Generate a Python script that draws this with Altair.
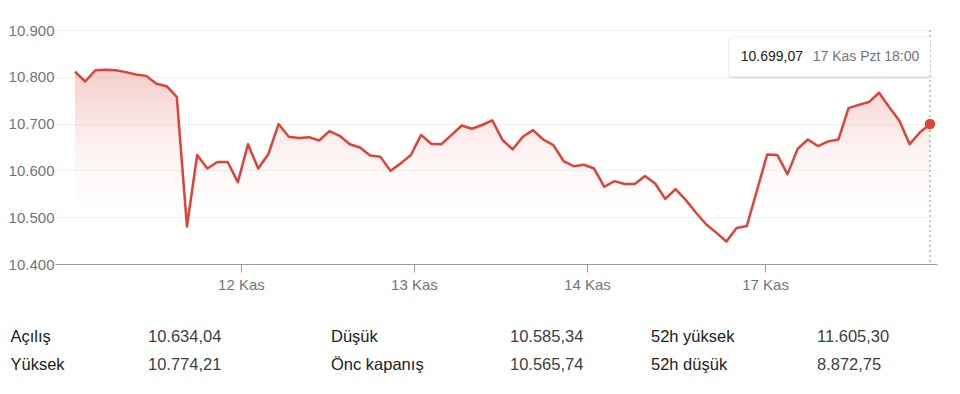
import altair as alt
import pandas as pd

# ---------------- data ----------------
prices = [
    10811, 10790, 10814, 10815, 10814, 10810, 10805, 10802, 10785, 10780,
    10757, 10480, 10633, 10604, 10618, 10618, 10575, 10656, 10604, 10635,
    10699, 10672, 10669, 10671, 10664, 10684, 10674, 10656, 10649, 10632,
    10629, 10599, 10615, 10633, 10676, 10657, 10656, 10676, 10696, 10689,
    10697, 10707, 10665, 10645, 10672, 10686, 10666, 10654, 10620, 10609,
    10612, 10604, 10565, 10577, 10571, 10571, 10588, 10572, 10539, 10560,
    10537, 10510, 10485, 10467, 10448, 10477, 10481, 10557, 10634, 10633,
    10592, 10646, 10666, 10652, 10662, 10666, 10733, 10740, 10746, 10766,
    10735, 10706, 10656, 10681, 10699.07,
]
tick_idx = [16.3, 33.3, 50.3, 67.8]
tick_labels = ["12 Kas", "13 Kas", "14 Kas", "17 Kas"]
y_ticks = [10400, 10500, 10600, 10700, 10800, 10900]

stat_names = [["Açılış", "Yüksek"], ["Düşük", "Önc kapanış"], ["52h yüksek", "52h düşük"]]
stat_values = [["10.634,04", "10.774,21"], ["10.585,34", "10.565,74"], ["11.605,30", "8.872,75"]]

last_price_label = "10.699,07"
last_time_label = "17 Kas Pzt 18:00"

# ---------------- layout / style ----------------
FONT = "Liberation Sans"
RED = "#db4437"
W, H = 882, 234
X_DOMAIN = [-1.965, 84.69]
Y_DOMAIN = [10400, 10900]

df = pd.DataFrame({"idx": list(range(len(prices))), "price": prices})
last = df.tail(1)

label_expr = ""
for v, lab in zip(tick_idx, tick_labels):
    label_expr += f"abs(datum.value - {v}) < 0.01 ? '{lab}' : "
label_expr += "''"

x_enc = alt.X(
    "idx:Q",
    scale=alt.Scale(domain=X_DOMAIN, nice=False, zero=False),
    axis=alt.Axis(
        values=tick_idx, labelExpr=label_expr, grid=False, title=None,
        tickSize=8, tickColor="#9a9a9a", domainColor="#9a9a9a", domainWidth=1.2,
        labelColor="#70757a", labelFontSize=15, labelFont=FONT, labelPadding=5,
    ),
)
y_enc = alt.Y(
    "price:Q",
    scale=alt.Scale(domain=Y_DOMAIN, nice=False, zero=False),
    axis=alt.Axis(
        values=y_ticks, labelExpr="replace(format(datum.value, ','), ',', '.')",
        grid=True, gridColor="#f1f1f1", domain=False, ticks=False, title=None,
        labelColor="#70757a", labelFontSize=15, labelFont=FONT, labelPadding=1,
    ),
)

base = alt.Chart(df)

area = base.mark_area(
    color=alt.Gradient(
        gradient="linear",
        stops=[
            alt.GradientStop(color="rgba(219,68,55,0.26)", offset=0),
            alt.GradientStop(color="rgba(219,68,55,0.07)", offset=0.4),
            alt.GradientStop(color="rgba(219,68,55,0)", offset=0.72),
        ],
        x1=0, x2=0, y1=0, y2=1,
    )
).encode(x=x_enc, y=y_enc, y2=alt.datum(10400))

line = base.mark_line(color=RED, strokeWidth=2.5, strokeJoin="round").encode(
    x=alt.X("idx:Q"), y=alt.Y("price:Q")
)

rule = alt.Chart(last).mark_rule(color="#8f8f8f", strokeDash=[2, 3], strokeWidth=1).encode(
    x=alt.X("idx:Q"), y=alt.datum(10900), y2=alt.datum(10400)
)

point = alt.Chart(last).mark_point(filled=True, color=RED, size=110, opacity=1).encode(
    x=alt.X("idx:Q"), y=alt.Y("price:Q")
)

shadow = alt.Chart(last).mark_rect(color="black", opacity=0.10, cornerRadius=3).encode(
    x=alt.value(673.5), x2=alt.value(875.5), y=alt.value(7.5), y2=alt.value(48.5)
)
box = alt.Chart(last).mark_rect(color="white", stroke="#e4e4e4", strokeWidth=0.5, cornerRadius=2).encode(
    x=alt.value(674), x2=alt.value(875), y=alt.value(6.7), y2=alt.value(46.7)
)
tip_price = alt.Chart(last).mark_text(
    align="left", baseline="middle", fontSize=14, font=FONT, color="#202124"
).encode(x=alt.value(685.7), y=alt.value(26.7), text=alt.value(last_price_label))
tip_time = alt.Chart(last).mark_text(
    align="left", baseline="middle", fontSize=14, font=FONT, color="#70757a"
).encode(x=alt.value(757.7), y=alt.value(26.7), text=alt.value(last_time_label))

layers = [area, line, rule, point, shadow, box, tip_price, tip_time]

label_cols = [-44.5, 276, 596]
value_cols = [93, 455, 762]
row_y = [307, 335]
for c in range(3):
    for r in range(2):
        layers.append(
            alt.Chart(last).mark_text(
                align="left", baseline="middle", fontSize=16.5, font=FONT, color="#202124"
            ).encode(x=alt.value(label_cols[c]), y=alt.value(row_y[r]), text=alt.value(stat_names[c][r]))
        )
        layers.append(
            alt.Chart(last).mark_text(
                align="left", baseline="middle", fontSize=16.5, font=FONT, color="#3c4043"
            ).encode(x=alt.value(value_cols[c]), y=alt.value(row_y[r]), text=alt.value(stat_values[c][r]))
        )

chart = alt.layer(*layers).properties(
    width=W, height=H,
    autosize=alt.AutoSizeParams(type="none"),
    padding={"left": 55, "top": 30, "right": 23, "bottom": 130},
    background="white",
).configure_view(stroke=None)

chart.save("out.html", embed_options={"renderer": "svg", "actions": False})
